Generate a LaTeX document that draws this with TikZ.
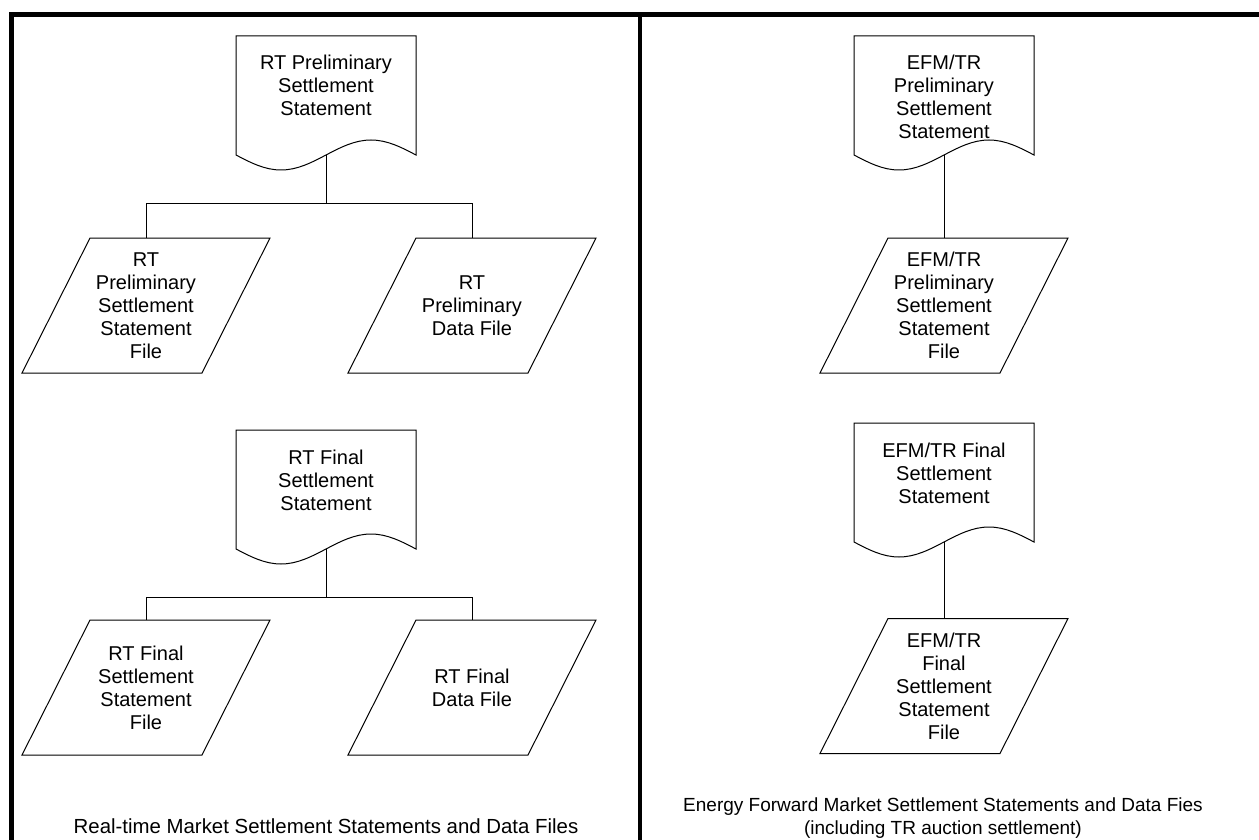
\documentclass[tikz,border=0pt]{standalone}
\usepackage{fontspec}
\setmainfont{Liberation Sans}
\begin{document}
\begin{tikzpicture}[x=1pt,y=-1pt,
  txt/.style={font=\fontsize{20}{23}\selectfont},
  docbox/.style={txt, draw=none, inner sep=0pt, outer sep=0pt, minimum width=180pt, minimum height=119pt, anchor=north},
  parabox/.style={txt, draw=none, inner sep=0pt, outer sep=0pt, minimum width=180pt, minimum height=135pt, align=center},
  outline/.style={draw=black, line width=1pt, line join=miter},
  conn/.style={draw=black, line width=1pt},
  frame/.style={draw=black, line width=4.5pt},
  caption/.style={align=center, inner sep=0pt}
]
\newcommand\doctext[1]{\parbox[c][119pt][t]{176pt}{\centering\rule{0pt}{34pt}#1}}
\newcommand\docoutline[1]{%
  \draw[outline] (#1.north west) -- (#1.south west) sin ++(45,15) cos ++(45,-15) sin ++(45,-15) cos ++(45,15) -- (#1.north east) -- cycle;}
\newcommand\paraoutline[1]{%
  \draw[outline] ([xshift=34pt]#1.north west) -- ([xshift=34pt]#1.north east) -- ([xshift=-34pt]#1.south east) -- ([xshift=-34pt]#1.south west) -- cycle;}

\useasboundingbox (0,0) rectangle (1259,840);

% frame
\draw[frame] (11.7,900) -- (11.7,14.5) -- (1300,14.5);
\draw[frame] (640,14.5) -- (640,900);

% left panel
\node[docbox] (d1) at (326,36) {\doctext{RT Preliminary\\Settlement\\Statement}};
\docoutline{d1}
\node[parabox] (p1) at (146,305.5) {RT\\Preliminary\\Settlement\\Statement\\File};
\paraoutline{p1}
\node[parabox] (p2) at (472,305.5) {RT\\Preliminary\\Data File};
\paraoutline{p2}
\coordinate (b1) at (326,203);
\draw[conn] (d1.south) -- (b1) -| (p1.north);
\draw[conn] (b1) -| (p2.north);

\node[docbox] (d2) at (326,430) {\doctext{RT Final\\Settlement\\Statement}};
\docoutline{d2}
\node[parabox] (p3) at (146,687.5) {RT Final\\Settlement\\Statement\\File};
\paraoutline{p3}
\node[parabox] (p4) at (472,687.5) {RT Final\\Data File};
\paraoutline{p4}
\coordinate (b2) at (326,597);
\draw[conn] (d2.south) -- (b2) -| (p3.north);
\draw[conn] (b2) -| (p4.north);

\node[caption, anchor=base, font=\fontsize{20.4}{23}\selectfont] (c1) at (326,833) {Real-time Market Settlement Statements and Data Files};

% right panel
\node[docbox] (d3) at (944,36) {\doctext{EFM/TR\\Preliminary\\Settlement\\Statement}};
\docoutline{d3}
\node[parabox] (p5) at (944,305.5) {EFM/TR\\Preliminary\\Settlement\\Statement\\File};
\paraoutline{p5}
\draw[conn] (d3.south) -- (p5.north);

\node[docbox] (d4) at (944,423) {\doctext{EFM/TR Final\\Settlement\\Statement}};
\docoutline{d4}
\node[parabox] (p6) at (944,686) {EFM/TR\\Final\\Settlement\\Statement\\File};
\paraoutline{p6}
\draw[conn] (d4.south) -- (p6.north);

\node[caption, anchor=base, font=\fontsize{19}{23}\selectfont] (c2) at (943,834) {Energy Forward Market Settlement Statements and Data Fies\\(including TR auction settlement)};
\end{tikzpicture}
\end{document}
